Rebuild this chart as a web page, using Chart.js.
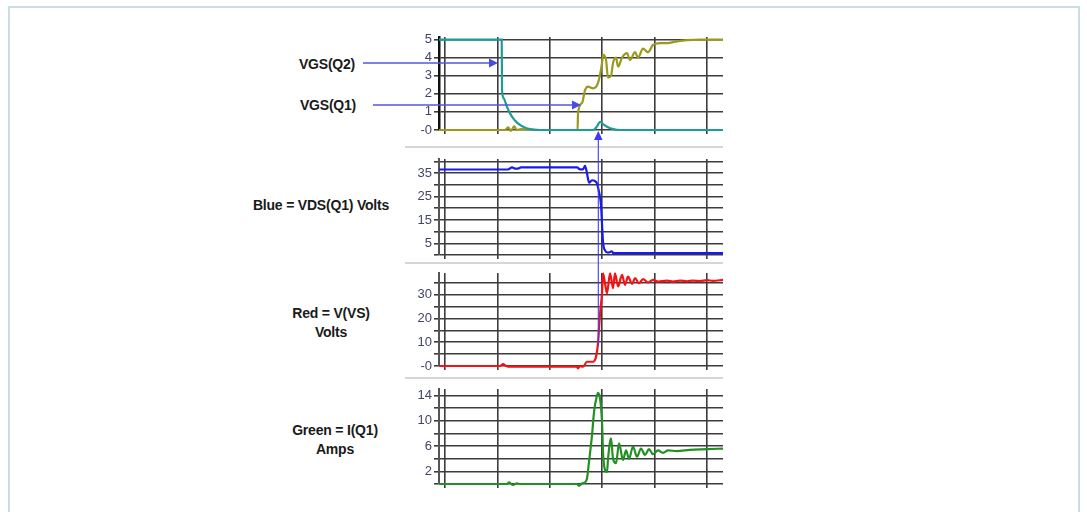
<!DOCTYPE html>
<html><head><meta charset="utf-8">
<script src="https://cdn.jsdelivr.net/npm/chart.js@4.4.1/dist/chart.umd.min.js"></script>
<style>
html,body{margin:0;padding:0;background:#fff;}
#wrap{position:relative;width:1087px;height:512px;overflow:hidden;background:#fff;}
.frame{position:absolute;left:8px;top:6px;width:1072px;height:530px;border:2px solid #cddde1;box-sizing:border-box;}
.sep{position:absolute;left:405px;width:318px;height:2px;background:#d6d6d6;}
.lbl{position:absolute;font-family:"Liberation Sans",Arial,sans-serif;font-weight:bold;font-size:14px;letter-spacing:-0.2px;color:#1a1a1a;line-height:19px;text-align:center;white-space:nowrap;transform:translate(-50%,-50%);}
canvas{position:absolute;}
svg{position:absolute;left:0;top:0;}
</style></head>
<body>
<div id="wrap">
  <div class="frame"></div>
  <div class="sep" style="top:146px"></div>
  <div class="sep" style="top:262px"></div>
  <div class="sep" style="top:377px"></div>
  <div class="lbl" style="left:327px;top:64px">VGS(Q2)</div>
  <div class="lbl" style="left:328px;top:105px">VGS(Q1)</div>
  <div class="lbl" style="left:321px;top:205px">Blue = VDS(Q1) Volts</div>
  <div class="lbl" style="left:331px;top:323px">Red = V(VS)<br>Volts</div>
  <div class="lbl" style="left:335px;top:440px">Green = I(Q1)<br>Amps</div>
  <canvas id="c1" width="351" height="115" style="left:379px;top:27px"></canvas>
  <canvas id="c2" width="351" height="118" style="left:379px;top:149px"></canvas>
  <canvas id="c3" width="351" height="115" style="left:379px;top:263px"></canvas>
  <canvas id="c4" width="351" height="117" style="left:379px;top:379px"></canvas>
  <svg width="1087" height="512">
    <g stroke="#5555e0" stroke-width="1.6" fill="#4a4ae6">
      <line x1="363" y1="63" x2="490" y2="63"/>
      <polygon points="498,63 489,58.5 489,67.5" stroke="none"/>
      <line x1="373" y1="105" x2="573" y2="105"/>
      <polygon points="581,105 572,100.5 572,109.5" stroke="none"/>
    </g>
    <g stroke="#3a3aff" stroke-width="1.1" fill="#3a3aff">
      <line x1="598.3" y1="139" x2="598.3" y2="346"/>
      <polygon points="598.3,131 594,140 602.6,140" stroke="none"/>
    </g>
  </svg>
</div>
<script>
// ---- x grid (time divisions) ----
const xMin = -1.15, xMax = 53.05;
const xGridTicks = [0, 10, 20, 30, 40, 50];

// ---- panel 1: gate voltages ----
const vgsTicks = [0, 1, 2, 3, 4, 5];
const vgsTickLabels = ['-0', '1', '2', '3', '4', '5'];
const vgsQ2Time = [-1.15, 10.82, 10.88, 11.2, 11.83, 12.4, 12.98, 13.6, 14.31, 15.2, 16.22, 18.13, 28.3, 29.0, 29.6, 30.3, 31.1, 32.1, 33.4, 53.05];
const vgsQ2Vals = [5, 5, 2.2, 1.75, 1.27, 0.92, 0.66, 0.45, 0.28, 0.14, 0.05, 0, 0, 0.2, 0.45, 0.3, 0.15, 0.05, 0, 0];
const vgsQ1Time = [-1.15, 11.45, 12.02, 12.6, 13.17, 13.74, 14.5, 16.0, 18.0, 25.3, 25.38, 26.15, 26.72, 27.29, 28.24, 29.2, 29.96, 30.15, 30.73, 31.1, 31.68, 32.06, 32.63, 33.02, 33.78, 34.73, 35.3, 36.26, 36.83, 37.79, 38.74, 39.69, 41.03, 42.37, 44.27, 46.18, 48.66, 53.05];
const vgsQ1Vals = [0, 0, 0.15, -0.05, 0.2, 0, 0.05, 0.02, 0, 0, 0.94, 1.5, 2.2, 2.4, 2.3, 2.6, 3.7, 4.15, 3.87, 2.9, 3.0, 3.7, 4.0, 3.5, 4.0, 4.25, 3.87, 4.3, 4.0, 4.5, 4.3, 4.7, 4.8, 4.8, 4.9, 4.97, 5.0, 5.0];

// ---- panel 2: VDS(Q1) ----
const vdsTicks = [0, 5, 10, 15, 20, 25, 30, 35, 40];
const vdsTickLabels = ['', '5', '', '15', '', '25', '', '35', ''];
const vdsTime = [-1.15, 12.02, 12.79, 13.36, 13.93, 14.5, 25.19, 25.76, 26.34, 26.72, 27.1, 27.48, 28.05, 28.63, 29.01, 29.39, 29.77, 29.96, 30.15, 30.53, 31.11, 31.87, 32.06, 53.05];
const vdsVals = [36.6, 36.6, 37.5, 37.0, 37.0, 37.5, 37.5, 36.7, 36.7, 38.2, 34.9, 31.0, 32.0, 31.6, 30.6, 27.0, 21.3, 13.4, 5.6, 2.0, 1.0, 1.6, 0.8, 0.8];

// ---- panel 3: V(VS) ----
const vsTicks = [0, 5, 10, 15, 20, 25, 30, 35];
const vsTickLabels = ['-0', '', '10', '', '20', '', '30', ''];
const vsTime = [-1.15, 10.5, 11.07, 11.64, 12.02, 25.19, 25.38, 25.76, 26.34, 27.1, 28.24, 28.82, 29.2, 29.58, 29.96, 30.15, 30.53, 30.92, 31.49, 32.06, 32.44, 33.02, 33.78, 34.35, 34.92, 35.69, 36.26, 37.02, 37.79, 38.74, 39.69, 40.65, 42.37, 43.51, 44.85, 46.18, 47.33, 48.66, 50.0, 51.15, 53.05];
const vsVals = [0, 0, 0.8, 0, -0.3, -0.3, -1.0, 0, -0.3, 1.8, 1.8, 3.9, 9.6, 22, 30.7, 39.1, 34.9, 30.7, 39.1, 32.8, 39.1, 33.5, 38.4, 34.2, 37.7, 34.6, 37.0, 34.9, 36.6, 35.2, 36.3, 35.6, 36.0, 35.6, 36.0, 35.7, 36.0, 35.8, 36.2, 35.9, 36.3];

// ---- panel 4: I(Q1) ----
const iTicks = [0, 2, 4, 6, 8, 10, 12, 14];
const iTickLabels = ['', '2', '', '6', '', '10', '', '14'];
const iTime = [-1.15, 11.83, 12.21, 12.98, 13.74, 14.31, 25.19, 25.57, 26.15, 26.72, 27.1, 27.48, 28.05, 28.44, 29.01, 29.2, 29.58, 29.96, 30.15, 30.53, 30.92, 31.11, 31.68, 32.06, 32.63, 33.21, 33.97, 34.54, 35.11, 35.88, 36.64, 37.4, 38.17, 38.93, 39.69, 40.65, 41.6, 42.56, 44.27, 46.76, 50.0, 53.05];
const iVals = [0, 0, 0.26, -0.16, 0.1, 0, 0, -0.3, 0.1, 0.26, 0.9, 3.5, 7.7, 11.4, 14.0, 14.4, 13.5, 9.8, 5.1, 2.2, 1.9, 4.0, 7.2, 4.0, 3.3, 6.4, 3.8, 5.3, 4.0, 5.9, 4.3, 5.6, 4.6, 5.5, 4.7, 5.3, 4.9, 5.3, 5.2, 5.4, 5.5, 5.6];

const pts = (t, v) => t.map((x, i) => ({x: x, y: v[i]}));
const GRID = '#3c3c3c';
const TICKCOL = '#44446a';

function ds(t, v, color) {
  return {data: pts(t, v), borderColor: color, borderWidth: 2.2, pointRadius: 0,
          cubicInterpolationMode: 'monotone', fill: false, clip: 8};
}

function panel(id, yMin, yMax, ticks, labels, datasets, axisColor, axisWidth) {
  new Chart(document.getElementById(id), {
    type: 'line',
    data: {datasets: datasets},
    options: {
      responsive: false, animation: false, devicePixelRatio: 1,
      layout: {padding: {top: 10, right: 7, bottom: 8, left: 0}},
      plugins: {legend: {display: false}, tooltip: {enabled: false}, title: {display: false}},
      scales: {
        x: {
          type: 'linear', min: xMin, max: xMax,
          afterBuildTicks: s => { s.ticks = xGridTicks.map(v => ({value: v})); },
          afterFit: s => { s.height = 4; },
          ticks: {display: false},
          grid: {color: GRID, lineWidth: 1.6, drawTicks: true, tickLength: 4},
          border: {display: false}
        },
        y: {
          type: 'linear', min: yMin, max: yMax, position: 'left',
          afterBuildTicks: s => { s.ticks = ticks.map(v => ({value: v})); },
          afterFit: s => { s.width = 60; },
          ticks: {autoSkip: false, padding: 2, color: TICKCOL,
                  font: {family: '"Liberation Sans", Arial, sans-serif', size: 13},
                  callback: (v, i) => labels[i]},
          grid: {color: GRID, lineWidth: 1.6, drawTicks: true, tickLength: 5},
          border: {display: true, color: axisColor, width: axisWidth}
        }
      }
    }
  });
}

panel('c1', 0, 5.14, vgsTicks, vgsTickLabels,
  [ds(vgsQ2Time, vgsQ2Vals, '#1f9c98'), ds(vgsQ1Time, vgsQ1Vals, '#9a9a1c')], '#111111', 2.5);
panel('c2', 0, 41.1, vdsTicks, vdsTickLabels,
  [ds(vdsTime, vdsVals, '#1a1aee')], '#555555', 2);
panel('c3', 0, 39.2, vsTicks, vsTickLabels,
  [ds(vsTime, vsVals, '#f51212')], '#555555', 2);
panel('c4', 0, 15, iTicks, iTickLabels,
  [ds(iTime, iVals, '#229022')], '#555555', 2);
</script>
</body></html>
